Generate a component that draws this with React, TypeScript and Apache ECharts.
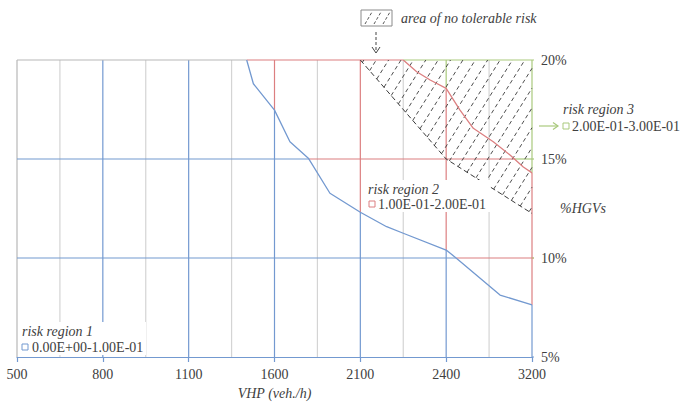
import React, { useEffect, useRef } from "react";
import * as echarts from "echarts";

// x-axis tick labels (VHP, veh./h) — equally spaced on the axis
const xTicks = [500, 800, 1100, 1600, 2100, 2400, 3200];
// y-axis ticks (%HGVs)
const yTicks = [5, 10, 15, 20];

// boundary between risk region 1 and risk region 2: [VHP, %HGVs]
const boundary1: number[][] = [
  [1438, 20.0], [1477, 18.8], [1600, 17.47], [1690, 15.87], [1797, 15.04],
  [1923, 13.27], [2100, 12.31], [2192, 11.58], [2250, 11.25], [2400, 10.4],
  [2498, 9.98], [2902, 8.13], [3200, 7.63],
];
// boundary between risk region 2 and risk region 3: [VHP, %HGVs]
const boundary2: number[][] = [
  [2250, 20.0], [2297, 19.41], [2344, 18.99], [2400, 18.57], [2529, 17.47],
  [2653, 16.55], [2839, 15.87], [2995, 15.2], [3119, 14.6], [3200, 14.3],
];
// lower edge of the "area of no tolerable risk"
const noTolerable: number[][] = [[2100, 20], [2400, 15], [3200, 12.25]];

const region1Label = "risk region 1";
const region1Range = "0.00E+00-1.00E-01";
const region2Label = "risk region 2";
const region2Range = "1.00E-01-2.00E-01";
const region3Label = "risk region 3";
const region3Range = "2.00E-01-3.00E-01";
const areaLabel = "area of no tolerable risk";
const xName = "VHP (veh./h)";
const yName = "%HGVs";

const BLUE = "#7399d0";
const RED = "#dc7f80";
const GREEN = "#a9c97c";
const GRAY = "#d4d4d4";
const FRAME = "#b8b8b8";
const TEXT = "#404040";
const FONT = "'Liberation Serif', 'Times New Roman', serif";

// map a VHP value onto the (equally spaced) axis position
function pos(v: number): number {
  for (let i = 0; i < xTicks.length - 1; i++) {
    if (v <= xTicks[i + 1]) return i + (v - xTicks[i]) / (xTicks[i + 1] - xTicks[i]);
  }
  return xTicks.length - 1;
}

function crossX(curve: number[][], x: number): number | null {
  for (let i = 0; i < curve.length - 1; i++) {
    const [x0, y0] = curve[i];
    const [x1, y1] = curve[i + 1];
    if ((x - x0) * (x - x1) <= 0 && x0 !== x1) return y0 + ((y1 - y0) * (x - x0)) / (x1 - x0);
  }
  return null;
}
function crossY(curve: number[][], y: number): number | null {
  for (let i = 0; i < curve.length - 1; i++) {
    const [x0, y0] = curve[i];
    const [x1, y1] = curve[i + 1];
    if ((y - y0) * (y - y1) <= 0 && y0 !== y1) return x0 + ((x1 - x0) * (y - y0)) / (y1 - y0);
  }
  return null;
}

export default function App() {
  const ref = useRef<HTMLDivElement>(null);

  useEffect(() => {
    document.body.style.margin = "0";
    if (!ref.current) return;
    const chart = echarts.init(ref.current, null, { renderer: "svg" });

    const b1 = boundary1.map(([v, p]) => [pos(v), p]);
    const b2 = boundary2.map(([v, p]) => [pos(v), p]);
    const nt = noTolerable.map(([v, p]) => [pos(v), p]);
    const xMax = xTicks.length - 1;
    const yMin = yTicks[0];
    const yMax = yTicks[yTicks.length - 1];
    const ext = 0.065;

    const segs: { a: number[]; b: number[]; color: string; z: number }[] = [];
    const add = (color: string, a: number[], b: number[], z = 3) => {
      if (Math.abs(a[0] - b[0]) > 1e-6 || Math.abs(a[1] - b[1]) > 1e-6) segs.push({ a, b, color, z });
    };

    // minor vertical lines
    for (let i = 0; i < xMax; i++) add(GRAY, [i + 0.5, yMin], [i + 0.5, yMax], 1);
    // left frame
    add(FRAME, [0, yMin], [0, yMax], 2);

    // major vertical lines coloured by region
    for (let k = 1; k <= xMax; k++) {
      let yb = crossX(b1, k);
      if (yb === null) yb = k < b1[0][0] ? yMax : yMin;
      let yr = crossX(b2, k);
      if (yr === null) yr = k < b2[0][0] ? yMax : yMin;
      add(BLUE, [k, yMin], [k, yb]);
      if (yr > yb) add(RED, [k, yb], [k, yr]);
      if (yr < yMax) add(GREEN, [k, Math.max(yr, yb)], [k, yMax]);
    }

    // horizontal lines coloured by region
    for (const y of yTicks.slice(1)) {
      let xb = crossY(b1, y);
      if (xb === null) xb = xMax;
      let xr = crossY(b2, y);
      if (xr === null) xr = xMax;
      const parts: [string, number, number][] = [
        [y === yMax ? FRAME : BLUE, 0, xb >= xMax ? xMax + ext : xb],
        [RED, xb, xr >= xMax ? xMax + ext : xr],
        [GREEN, xr, xMax + ext],
      ];
      for (const [c, a, b] of parts) if (b > a) add(c, [a, y], [b, y]);
    }
    add(BLUE, [xMax, yMin], [xMax + ext, yMin]);

    const gridSeries = segs.map((s) => ({
      type: "line",
      data: [s.a, s.b],
      symbol: "none",
      showSymbol: false,
      silent: true,
      clip: false,
      z: s.z,
      lineStyle: { color: s.color, width: 1.2, opacity: 1 },
    }));

    const hatchItem = (params: any, api: any) => {
      const poly = [api.coord(nt[0]), api.coord([xMax, yMax]), ...nt.slice(1).reverse().map((p) => api.coord(p))];
      const th = (58 * Math.PI) / 180;
      const d = [Math.cos(th), -Math.sin(th)];
      const n = [Math.sin(th), Math.cos(th)];
      const proj = poly.map((p: number[]) => n[0] * p[0] + n[1] * p[1]);
      const cMin = Math.min(...proj);
      const cMax = Math.max(...proj);
      const children: any[] = [];
      const step = 10.5;
      for (let c = cMin + 3; c < cMax; c += step) {
        const ts: number[] = [];
        for (let i = 0; i < poly.length; i++) {
          const a = poly[i];
          const b = poly[(i + 1) % poly.length];
          const fa = n[0] * a[0] + n[1] * a[1] - c;
          const fb = n[0] * b[0] + n[1] * b[1] - c;
          if (fa * fb <= 0 && fa !== fb) {
            const t = fa / (fa - fb);
            const px = a[0] + t * (b[0] - a[0]);
            const py = a[1] + t * (b[1] - a[1]);
            ts.push(d[0] * px + d[1] * py);
          }
        }
        if (ts.length < 2) continue;
        const t0 = Math.min(...ts);
        const t1 = Math.max(...ts);
        const base = [n[0] * c, n[1] * c];
        children.push({
          type: "line",
          shape: {
            x1: base[0] + d[0] * t0, y1: base[1] + d[1] * t0,
            x2: base[0] + d[0] * t1, y2: base[1] + d[1] * t1,
          },
          style: { stroke: "#3a3a3a", lineWidth: 0.9, lineDash: [4, 3] },
        });
      }
      children.push({
        type: "polyline",
        shape: { points: nt.map((p) => api.coord(p)) },
        style: { stroke: "#3a3a3a", lineWidth: 1, lineDash: [5, 3], fill: null },
      });
      return { type: "group", children };
    };

    const txt = (text: string, x: number, y: number, italic: boolean) => ({
      type: "text",
      x,
      y,
      z: 110,
      style: {
        text,
        fill: TEXT,
        font: `${italic ? "italic " : ""}14px ${FONT}`,
        verticalAlign: "middle",
      },
    });
    const square = (x: number, y: number, color: string) => ({
      type: "rect",
      z: 110,
      shape: { x, y, width: 6, height: 6 },
      style: { fill: "#fff", stroke: color, lineWidth: 1 },
    });

    const legendBox = { x: 361, y: 10, w: 31, h: 16 };
    const legendHatch: any[] = [];
    for (const off of [4, 13, 22]) {
      legendHatch.push({
        type: "line",
        z: 110,
        shape: { x1: legendBox.x + off, y1: legendBox.y + legendBox.h - 2, x2: legendBox.x + off + 7, y2: legendBox.y + 2 },
        style: { stroke: "#444", lineWidth: 0.9, lineDash: [3, 2] },
      });
    }

    const option: any = {
      animation: false,
      backgroundColor: "#fff",
      grid: { left: 17, right: 151, top: 60, bottom: 48, containLabel: false },
      xAxis: {
        type: "value",
        min: 0,
        max: xMax,
        interval: 1,
        name: xName,
        nameLocation: "middle",
        nameGap: 29,
        nameTextStyle: { color: TEXT, fontFamily: FONT, fontSize: 14, fontStyle: "italic" },
        axisLine: { show: true, lineStyle: { color: BLUE, width: 1.2 } },
        axisTick: { show: true, length: 5, lineStyle: { color: BLUE, width: 1.2 } },
        axisLabel: {
          color: TEXT,
          fontFamily: FONT,
          fontSize: 14,
          margin: 10,
          formatter: (v: number) => String(xTicks[Math.round(v)] ?? ""),
        },
        splitLine: { show: false },
      },
      yAxis: {
        type: "value",
        position: "right",
        min: yMin,
        max: yMax,
        interval: 5,
        axisLine: { show: false },
        axisTick: { show: false },
        splitLine: { show: false },
        axisLabel: { color: TEXT, fontFamily: FONT, fontSize: 14, margin: 9, formatter: "{value}%" },
      },
      series: [
        ...gridSeries,
        {
          type: "custom",
          renderItem: hatchItem,
          data: [[xMax, yMax]],
          z: 4,
          silent: true,
          clip: false,
        },
        {
          type: "line",
          data: b2,
          showSymbol: false,
          symbol: "none",
          z: 5,
          lineStyle: { color: RED, width: 1.3 },
        },
        {
          type: "line",
          data: b1,
          showSymbol: false,
          symbol: "none",
          z: 5,
          lineStyle: { color: BLUE, width: 1.3 },
        },
      ],
      graphic: [
        // label backgrounds
        { type: "rect", z: 100, shape: { x: 19, y: 322, width: 127, height: 33 }, style: { fill: "#fff" } },
        { type: "rect", z: 100, shape: { x: 365, y: 180, width: 125, height: 32 }, style: { fill: "#fff" } },
        // region 1
        txt(region1Label, 22, 331, true),
        square(22, 344, BLUE),
        txt(region1Range, 32, 347, false),
        // region 2
        txt(region2Label, 368, 189, true),
        square(369, 201, RED),
        txt(region2Range, 378, 204, false),
        // region 3
        txt(region3Label, 563, 109, true),
        {
          type: "line",
          z: 110,
          shape: { x1: 539, y1: 126, x2: 558, y2: 126 },
          style: { stroke: GREEN, lineWidth: 1.2 },
        },
        {
          type: "polyline",
          z: 110,
          shape: { points: [[553, 122.5], [558, 126], [553, 129.5]] },
          style: { stroke: GREEN, lineWidth: 1.2, fill: null },
        },
        square(563, 123, GREEN),
        txt(region3Range, 572, 126, false),
        // y name
        txt(yName, 560, 208, true),
        // area of no tolerable risk legend
        {
          type: "rect",
          z: 110,
          shape: { x: legendBox.x, y: legendBox.y, width: legendBox.w, height: legendBox.h },
          style: { fill: "#fff", stroke: "#8a8a8a", lineWidth: 1 },
        },
        ...legendHatch,
        txt(areaLabel, 401, 18, true),
        {
          type: "line",
          z: 110,
          shape: { x1: 376, y1: 32, x2: 376, y2: 52 },
          style: { stroke: "#444", lineWidth: 1, lineDash: [3, 2] },
        },
        {
          type: "polyline",
          z: 110,
          shape: { points: [[372, 47], [376, 53], [380, 47]] },
          style: { stroke: "#444", lineWidth: 1, fill: null },
        },
      ],
    };

    chart.setOption(option);
    return () => chart.dispose();
  }, []);

  return <div ref={ref} style={{ width: 683, height: 405 }} />;
}
